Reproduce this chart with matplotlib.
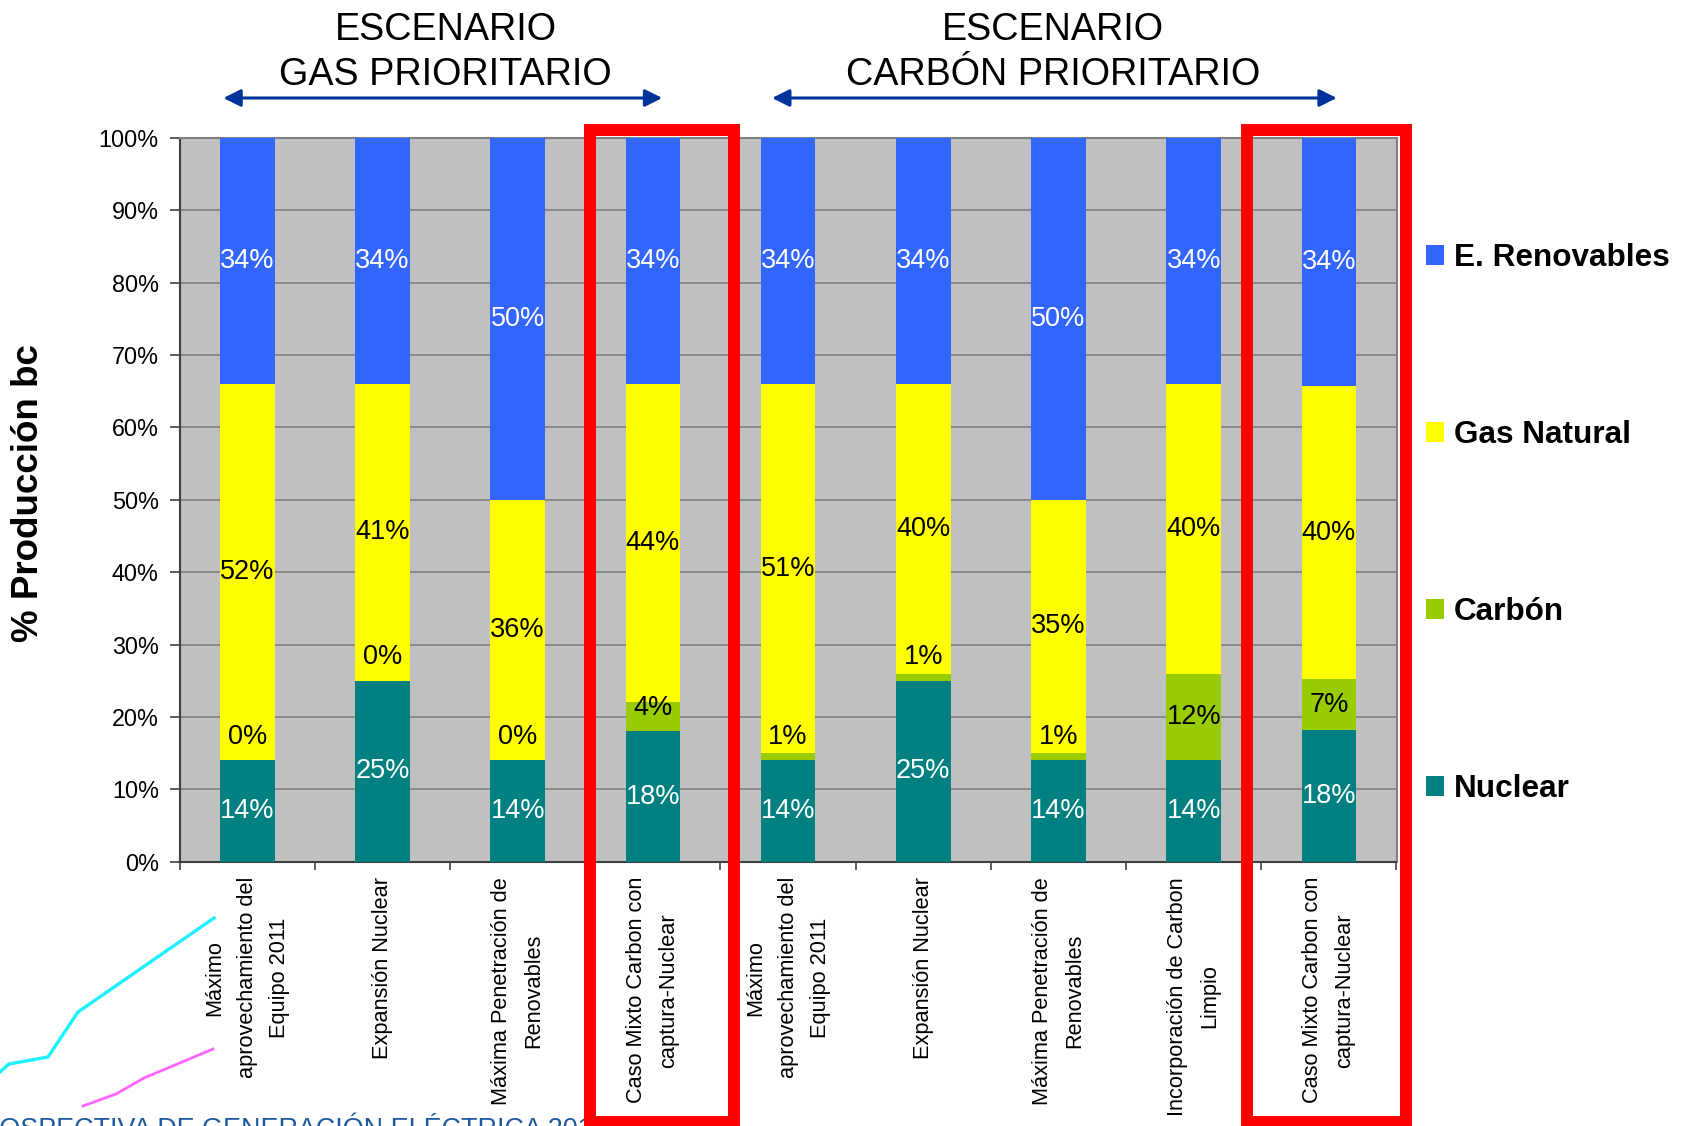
import numpy as np
import matplotlib
matplotlib.use("Agg")
import matplotlib.pyplot as plt
from matplotlib.patches import Rectangle, Patch, FancyArrowPatch
from matplotlib.lines import Line2D

plt.rcParams['font.family'] = ['Liberation Sans', 'DejaVu Sans']

# Scenario cases (x axis)
categories = [
    "Máximo\naprovechamiento del\nEquipo 2011",
    "Expansión Nuclear",
    "Máxima Penetración de\nRenovables",
    "Caso Mixto Carbon con\ncaptura-Nuclear",
    "Máximo\naprovechamiento del\nEquipo 2011",
    "Expansión Nuclear",
    "Máxima Penetración de\nRenovables",
    "Incorporación de Carbon\nLimpio",
    "Caso Mixto Carbon con\ncaptura-Nuclear",
]

# Share of generation per technology (%)
nuclear = [14, 25, 14, 18, 14, 25, 14, 14, 18]
carbon = [0, 0, 0, 4, 1, 1, 1, 12, 7]
gas = [52, 41, 36, 44, 51, 40, 35, 40, 40]
renovables = [34, 34, 50, 34, 34, 34, 50, 34, 34]

series_names = ["Nuclear", "Carbón", "Gas Natural", "E. Renovables"]
series_values = [nuclear, carbon, gas, renovables]
series_colors = ["#008080", "#99CC00", "#FFFF00", "#3366FF"]
label_colors = ["white", "black", "black", "white"]

scenario_titles = [("ESCENARIO", "GAS PRIORITARIO"), ("ESCENARIO", "CARBÓN PRIORITARIO")]
yticks = np.arange(0, 101, 10)
ytick_labels = [f"{v}%" for v in yticks]
footer = "PROSPECTIVA DE GENERACIÓN ELÉCTRICA 2011"

W, H = 1687, 1126


def fx(px):
    return px / W


def fy(py):
    return 1 - py / H


fig = plt.figure(figsize=(W / 100, H / 100), dpi=100)
fig.patch.set_facecolor("white")

# decorative slide lines at lower left
cyan_px = [(0, 1072), (9, 1064), (48, 1057), (78, 1012), (214, 918)]
magenta_px = [(83, 1106), (116, 1094), (144, 1078), (213, 1049)]
for pts, col, lw in [(cyan_px, "#1EF0FF", 2.4), (magenta_px, "#FF66FF", 2.0)]:
    fig.add_artist(Line2D([fx(p[0]) for p in pts], [fy(p[1]) for p in pts],
                          transform=fig.transFigure, color=col, lw=lw, zorder=0))

# footer text of the slide, partly hidden behind the chart
ft = fig.text(fx(-37.5), fy(1137), footer, fontsize=19.4, color="#1F5A9E",
              ha="left", va="baseline", zorder=0)
clip = Rectangle((0, 0), fx(584), 1, transform=fig.transFigure)
ft.set_clip_path(clip)

ax = fig.add_axes([fx(179.7), fy(861.8), fx(1396.5) - fx(179.7), fy(137.7) - fy(861.8)])
ax.set_facecolor("#C0C0C0")

x = np.arange(len(categories))
vals = np.array(series_values, dtype=float)
totals = vals.sum(axis=0)
frac = vals / totals * 100  # 100% stacked

bar_w = 0.405
min_label_h = 6.6
bottom = np.zeros(len(categories))
for k in range(len(series_names)):
    ax.bar(x, frac[k], bar_w, bottom=bottom, color=series_colors[k],
           edgecolor="none", zorder=3, label=series_names[k])
    for i in range(len(categories)):
        h = frac[k][i]
        yc = bottom[i] + max(h, min_label_h) / 2 if k == 1 else bottom[i] + h / 2
        ax.text(x[i], yc, f"{series_values[k][i]}%", ha="center", va="center",
                fontsize=19.5, color=label_colors[k], zorder=4)
    bottom += frac[k]

ax.set_xlim(-0.5, len(categories) - 0.5)
ax.set_ylim(0, 100)
ax.set_yticks(yticks)
ax.set_yticklabels(ytick_labels, fontsize=16.8)
ax.yaxis.grid(True, color="#808080", lw=1.2, zorder=1)
ax.set_axisbelow(True)

ax.set_xticks(x)
ax.set_xticklabels(categories, rotation=90, fontsize=15.7, va="top", ha="center",
                   multialignment="center", linespacing=1.7)
ax.set_xticks(np.arange(-0.5, len(categories), 1), minor=True)
ax.tick_params(axis="x", which="major", length=0, pad=11)
ax.tick_params(axis="x", which="minor", length=6, width=1.2, color="#404040", direction="out")
ax.tick_params(axis="y", length=7, width=1.2, color="#404040", direction="out", pad=8)

for s in ["left", "bottom"]:
    ax.spines[s].set_color("#404040")
    ax.spines[s].set_linewidth(1.5)
for s in ["right", "top"]:
    ax.spines[s].set_color("#808080")
    ax.spines[s].set_linewidth(1.5)

# y axis title
fig.text(fx(29), fy(493), "% Producción bc", rotation=90, ha="center", va="center",
         fontsize=26.5, fontweight="bold")

# scenario headings with double arrows
heading_cx = [445.5, 1053]
arrow_ends = [(220.6, 665), (769.3, 1339.5)]
for (l1, l2), cx, (a0, a1) in zip(scenario_titles, heading_cx, arrow_ends):
    fig.text(fx(cx), fy(29.5), l1, ha="center", va="center", fontsize=27.2)
    fig.text(fx(cx), fy(75), l2, ha="center", va="center", fontsize=27.2)
    fig.add_artist(FancyArrowPatch(
        (fx(a0), fy(98)), (fx(a1), fy(98)), transform=fig.transFigure,
        arrowstyle="<|-|>", mutation_scale=26, color="#003399", lw=2.2))

# highlight frames
for left, right in [(590, 734), (1246.5, 1406)]:
    fig.add_artist(Rectangle((fx(left), fy(1122)), fx(right) - fx(left), fy(130) - fy(1122),
                             transform=fig.transFigure, fill=False, ec="#FF0000",
                             lw=8.6, joinstyle="miter", zorder=5))

# legend
handles = [Patch(facecolor=series_colors[k], edgecolor="none") for k in range(3, -1, -1)]
labels = [series_names[k] for k in range(3, -1, -1)]
fig.legend(handles, labels, loc="center left", bbox_to_anchor=(fx(1425.5), fy(523.5)),
           frameon=False, prop={"size": 22.7, "weight": "bold"}, labelspacing=4.66,
           handlelength=0.6, handleheight=0.6, handletextpad=0.3, borderpad=0,
           borderaxespad=0)

fig.savefig("out.png", dpi=100)
